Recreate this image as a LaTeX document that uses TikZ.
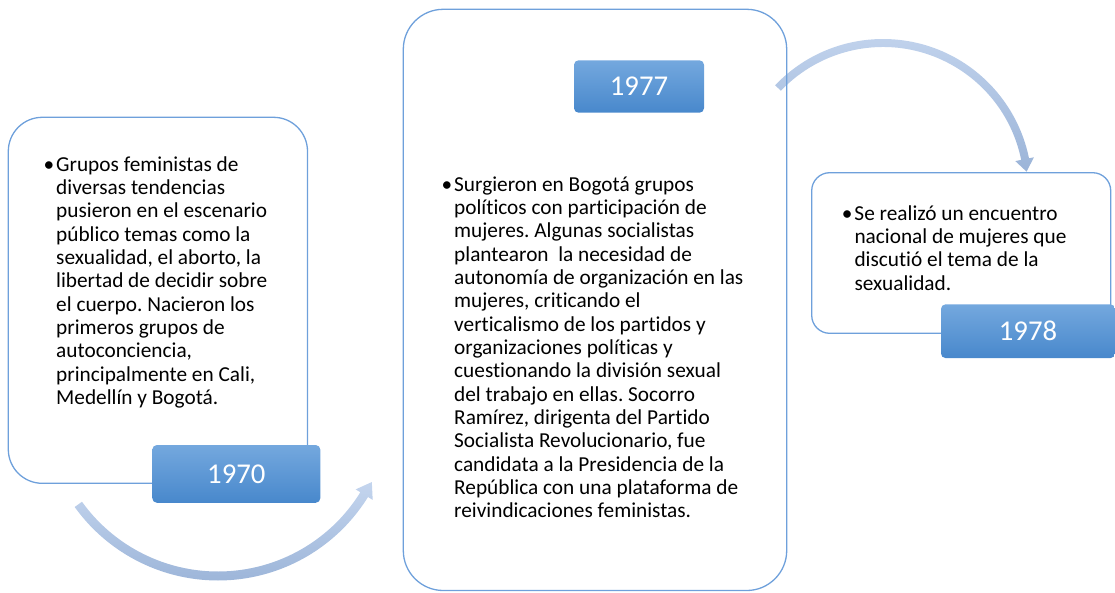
\documentclass[tikz,border=0pt]{standalone}
\usepackage{fontspec}
\setmainfont{Carlito}[Ligatures=NoCommon]
\usetikzlibrary{calc}
\definecolor{panelline}{RGB}{110,160,219}
\definecolor{yeartop}{RGB}{116,168,222}
\definecolor{yearbot}{RGB}{72,136,204}
\definecolor{flowtop}{RGB}{196,213,238}
\definecolor{flowbot}{RGB}{155,180,216}
\newcommand{\itembullet}{\llap{\textbullet\hspace{2pt}}}
\frenchspacing
\begin{document}
\begin{tikzpicture}[x=1pt, y=-1pt,
  panel/.style={draw=panelline, line width=1.3pt, inner sep=0pt},
  yearbox/.style={rounded corners=4.5pt, top color=yeartop, bottom color=yearbot,
    text=white, inner sep=0pt, font=\fontsize{28.7}{34}\selectfont},
  txt/.style={anchor=base west, align=left, inner sep=0pt,
    font=\fontsize{21.3}{23.35}\selectfont},
  flow/.style={top color=flowtop, bottom color=flowbot}]
  \useasboundingbox (0,0) rectangle (1115,592);
  % curved arrows
  \coordinate (c1) at (218,404);
  \coordinate (c2) at (883,188);
  \shade[flow] ($(c1)+(144.3:176.5)$) arc[start angle=144.3, end angle=31.8, radius=176.5]
    -- ($(c1)+(31.8:182)$) -- ($(c1)+(26.9:172.5)$) -- ($(c1)+(31.8:162)$)
    -- ($(c1)+(31.8:167.5)$) arc[start angle=31.8, end angle=144.3, radius=167.5] -- cycle;
  \shade[flow] ($(c2)+(-136.4:149)$) arc[start angle=-136.4, end angle=-11.5, radius=149]
    -- ($(c2)+(-11.5:154)$) -- ($(c2)+(-6.5:144.5)$) -- ($(c2)+(-11.5:135)$)
    -- ($(c2)+(-11.5:141)$) arc[start angle=-11.5, end angle=-136.4, radius=141] -- cycle;
  % 1970 (text nodes sit on the baseline of their last line)
  \node[panel, rounded corners=34pt, minimum width=299.2pt, minimum height=366pt] (p1) at (157.9,300.3) {};
  \node[txt] (t1) at (56,404.5) {\itembullet Grupos feministas de\\diversas tendencias\\pusieron en el escenario\\público temas como la\\sexualidad, el aborto, la\\libertad de decidir sobre\\el cuerpo. Nacieron los\\primeros grupos de\\autoconciencia,\\principalmente en Cali,\\Medellín y Bogotá.};
  \node[yearbox, minimum width=168pt, minimum height=57.7pt] (y1) at (236.3,473.9) {1970};
  % 1977
  \node[panel, rounded corners=40pt, minimum width=383.4pt, minimum height=581.2pt] (p2) at (595,299.9) {};
  \node[yearbox, minimum width=130pt, minimum height=52.4pt] (y2) at (639,86.5) {1977};
  \node[txt] (t2) at (454,517.9) {\itembullet Surgieron en Bogotá grupos\\políticos con participación de\\mujeres. Algunas socialistas\\plantearon\ \ la necesidad de\\autonomía de organización en las\\mujeres, criticando el\\verticalismo de los partidos y\\organizaciones políticas y\\cuestionando la división sexual\\del trabajo en ellas. Socorro\\Ramírez, dirigenta del Partido\\Socialista Revolucionario, fue\\candidata a la Presidencia de la\\República con una plataforma de\\reivindicaciones feministas.};
  % 1978
  \node[panel, rounded corners=18pt, minimum width=299pt, minimum height=160.6pt] (p3) at (961.2,253) {};
  \node[txt] (t3) at (854.3,290.1) {\itembullet Se realizó un encuentro\\nacional de mujeres que\\discutió el tema de la\\sexualidad.};
  \node[yearbox, minimum width=174pt, minimum height=53.7pt] (y3) at (1028,331.2) {1978};
\end{tikzpicture}
\end{document}
